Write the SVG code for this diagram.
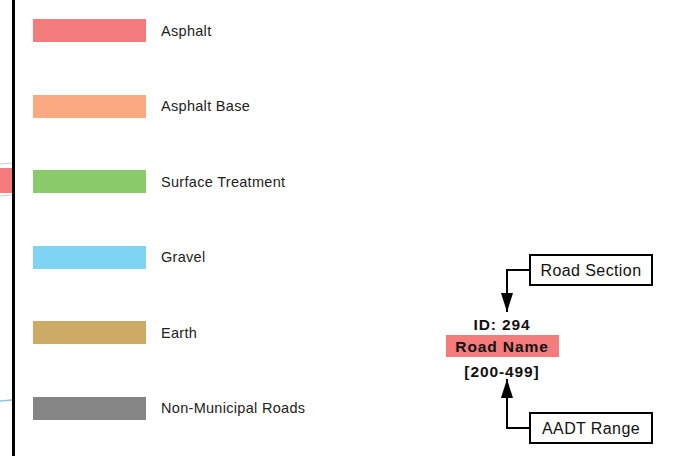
<svg xmlns="http://www.w3.org/2000/svg" width="687" height="456" viewBox="0 0 687 456">
<defs>
<style>
.lbl{font-family:"Liberation Sans",Arial,sans-serif;font-size:14.5px;fill:#222;letter-spacing:0.3px}
.boxt{font-family:"Liberation Sans",Arial,sans-serif;font-size:16px;fill:#111;letter-spacing:0.4px;text-anchor:middle}
.bold{font-family:"Liberation Sans",Arial,sans-serif;font-size:15.5px;font-weight:bold;fill:#111;letter-spacing:0.9px;text-anchor:middle}
.box{fill:#fff;stroke:#000;stroke-width:2}
.conn{fill:none;stroke:#000;stroke-width:2}
</style>
<marker id="arr" viewBox="0 0 19 12" refX="19" refY="6" markerWidth="19" markerHeight="12" markerUnits="userSpaceOnUse" orient="auto">
<path d="M0,0 L19,6 L0,12 Z" fill="#000"/>
</marker>
</defs>
<rect width="687" height="456" fill="#fff"/>
<g id="map-edge">
<line x1="0" y1="164" x2="12" y2="163" stroke="#ccc" stroke-width="1"/>
<rect x="0" y="168" width="12" height="25" fill="#f47c7c"/>
<line x1="0" y1="196" x2="12" y2="195" stroke="#ccc" stroke-width="1"/>
<line x1="0" y1="401" x2="12" y2="400" stroke="#8cc4dc" stroke-width="1.5"/>
<rect x="12" y="0" width="3" height="456" fill="#000"/>
</g>
<g id="legend-asphalt"><rect x="33" y="19" width="113" height="23" fill="#f47c7c"/><text class="lbl" x="161" y="36">Asphalt</text></g>
<g id="legend-asphalt-base"><rect x="33" y="95" width="113" height="23" fill="#f8a981"/><text class="lbl" x="161" y="111">Asphalt Base</text></g>
<g id="legend-surface"><rect x="33" y="170" width="113" height="23" fill="#8bca6a"/><text class="lbl" x="161" y="187">Surface Treatment</text></g>
<g id="legend-gravel"><rect x="33" y="246" width="113" height="23" fill="#7fd4f4"/><text class="lbl" x="161" y="262">Gravel</text></g>
<g id="legend-earth"><rect x="33" y="321" width="113" height="23" fill="#cdaa66"/><text class="lbl" x="161" y="338">Earth</text></g>
<g id="legend-nonmuni"><rect x="33" y="397" width="113" height="23" fill="#858585"/><text class="lbl" x="161" y="413">Non-Municipal Roads</text></g>
<g id="sample-label">
<text class="bold" x="502" y="330">ID: 294</text>
<rect x="446" y="335" width="113" height="22" fill="#f47c7c"/>
<text class="bold" x="502" y="352">Road Name</text>
<text class="bold" x="502" y="377">[200-499]</text>
</g>
<g id="road-section"><rect class="box" x="530" y="255" width="122" height="30"/><text class="boxt" x="591" y="276">Road Section</text></g>
<g id="aadt-range"><rect class="box" x="530" y="413" width="122" height="30"/><text class="boxt" x="591" y="434">AADT Range</text></g>
<g id="connectors">
<path class="conn" d="M530,270 H507 V312" marker-end="url(#arr)"/>
<path class="conn" d="M530,428 H507 V379" marker-end="url(#arr)"/>
</g>
</svg>
